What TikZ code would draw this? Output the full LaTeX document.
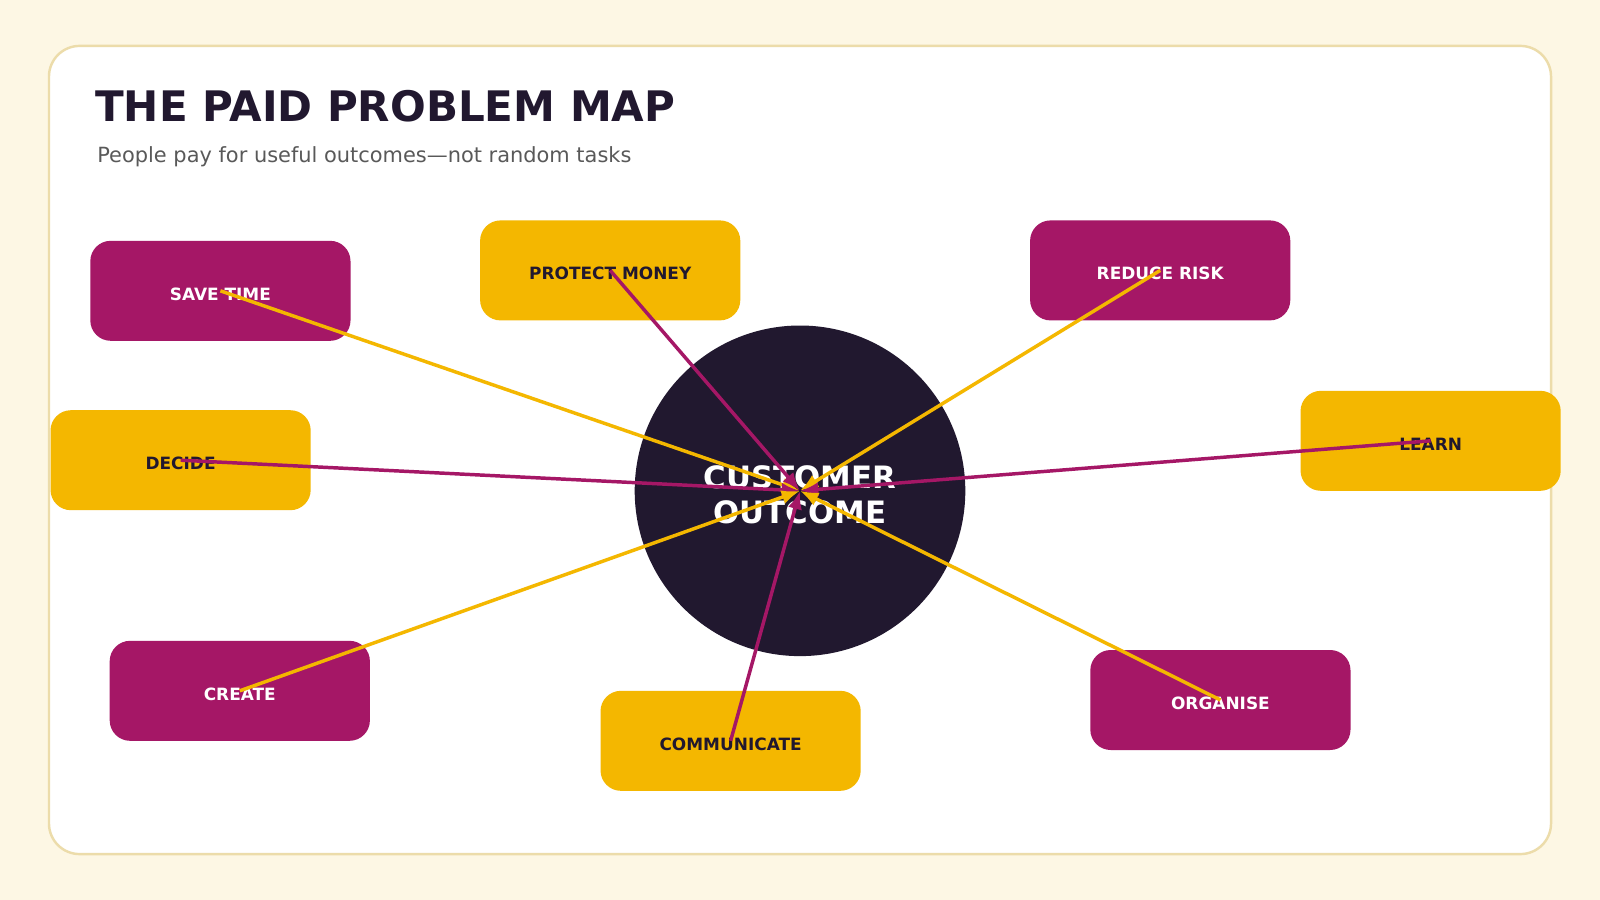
\documentclass[tikz,border=0pt]{standalone}
\usepackage{fontspec}
\setmainfont{DejaVu Sans}
\usetikzlibrary{arrows.meta}
\definecolor{bg}{HTML}{FDF7E4}
\definecolor{edge}{HTML}{ECDCAA}
\definecolor{ink}{HTML}{21182F}
\definecolor{mag}{HTML}{A51766}
\definecolor{yel}{HTML}{F4B700}
\begin{document}
\begin{tikzpicture}[x=0.5pt,y=-0.5pt,
  box/.style={rounded corners=10pt,minimum width=127.5pt,minimum height=49pt,inner sep=0pt},
  mbox/.style={box,fill=mag},
  ybox/.style={box,fill=yel},
  lab/.style={font=\bfseries\fontsize{8.3}{9}\selectfont},
  ml/.style={draw=mag,line width=1.7pt,-{Latex[length=9pt,width=7pt]}},
  yl/.style={draw=yel,line width=1.7pt,-{Latex[length=9pt,width=7pt]}}]
\useasboundingbox (0,0) rectangle (1568,882);
\fill[bg] (0,0) rectangle (1568,882);
\draw[edge,fill=white,line width=1.2pt,rounded corners=15pt] (48,45) rectangle (1520,837);
\node[anchor=base west,text=ink,font=\bfseries\fontsize{20.6}{24}\selectfont,inner sep=0pt] (title) at (93,119) {THE PAID PROBLEM MAP};
\node[anchor=base west,text=black!65,font=\fontsize{10.25}{12}\selectfont,inner sep=0pt] (sub) at (95,159) {People pay for useful outcomes—not random tasks};
\node[mbox] (st) at (216,285) {};
\node[ybox] (pm) at (598,265) {};
\node[mbox] (rr) at (1137,265) {};
\node[ybox] (le) at (1402,432) {};
\node[ybox] (de) at (177,451) {};
\node[mbox] (cr) at (235,677) {};
\node[ybox] (co) at (716,726) {};
\node[mbox] (or) at (1196,686) {};
\node[circle,fill=ink,minimum size=162pt,inner sep=0pt] (c) at (784,481) {};
\node[lab,text=white] (t1) at ([yshift=-1.5]st.center) {SAVE TIME};
\node[lab,text=ink] (t2) at ([yshift=-1.5]pm.center) {PROTECT MONEY};
\node[lab,text=white] (t3) at ([yshift=-1.5]rr.center) {REDUCE RISK};
\node[lab,text=ink] (t4) at ([yshift=-1.5]le.center) {LEARN};
\node[lab,text=ink] (t5) at ([yshift=-1.5]de.center) {DECIDE};
\node[lab,text=white] (t6) at ([yshift=-1.5]cr.center) {CREATE};
\node[lab,text=ink] (t7) at ([yshift=-1.5]co.center) {COMMUNICATE};
\node[lab,text=white] (t8) at ([yshift=-1.5]or.center) {ORGANISE};
\node[text=white,align=center,font=\bfseries\fontsize{15.1}{17.5}\selectfont] (ct) at (784,485) {CUSTOMER\\OUTCOME};
\coordinate (hub) at (784,481);
\draw[yl] (st.center) -- (hub);
\draw[ml] (pm.center) -- (hub);
\draw[yl] (rr.center) -- (hub);
\draw[ml] (le.center) -- (hub);
\draw[ml] (de.center) -- (hub);
\draw[yl] (cr.center) -- (hub);
\draw[ml] (co.center) -- (hub);
\draw[yl] (or.center) -- (hub);
\end{tikzpicture}
\end{document}
